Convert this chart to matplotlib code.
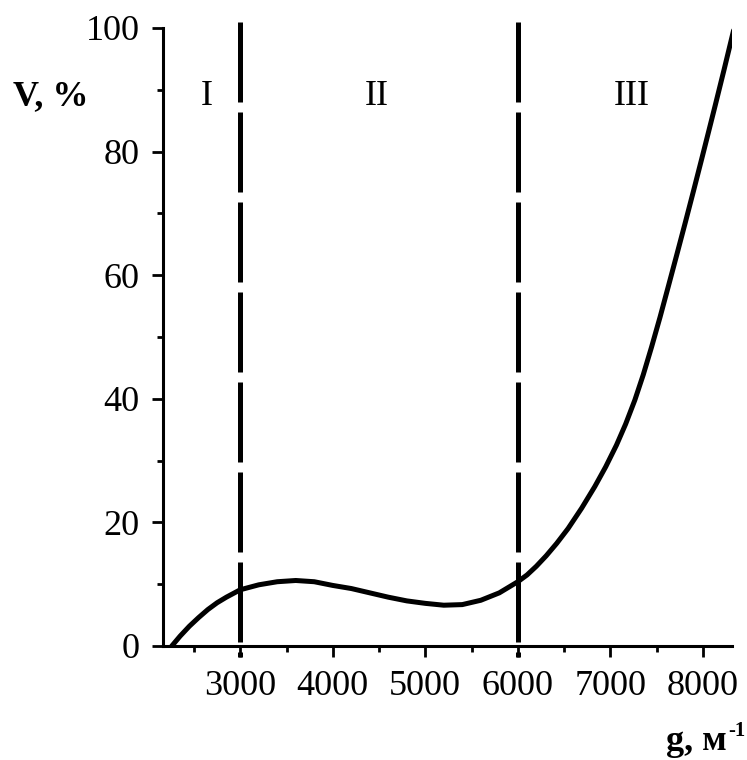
import matplotlib
matplotlib.use("Agg")
import matplotlib.pyplot as plt
from matplotlib.ticker import FixedLocator

# ---- data ----
g_values = [2260, 2350, 2450, 2550, 2650, 2750, 2850, 3000, 3200, 3400, 3600,
            3800, 4000, 4200, 4400, 4600, 4800, 5000, 5200, 5400, 5600, 5800,
            6000, 6100, 6200, 6307, 6420, 6543, 6690, 6832, 6950, 7066, 7165,
            7265, 7356, 7446, 7537, 7627, 7718, 7808, 7900, 7989, 8060, 8134,
            8230, 8332]
v_values = [0.0, 1.6, 3.2, 4.6, 5.9, 7.0, 7.9, 9.1, 9.9, 10.4, 10.6,
            10.4, 9.8, 9.3, 8.6, 7.9, 7.3, 6.9, 6.6, 6.7, 7.4, 8.6,
            10.4, 11.5, 12.9, 14.6, 16.6, 19.0, 22.3, 25.8, 29.0, 32.5, 35.9,
            39.8, 43.9, 48.4, 53.2, 58.2, 63.3, 68.4, 73.7, 78.9, 83.1, 87.5,
            93.3, 99.6]
boundaries = [3000, 6000]
region_labels = ["I", "II", "III"]
region_x = [2643, 4476, 7227]
x_major = [3000, 4000, 5000, 6000, 7000, 8000]
x_minor = [2500, 3500, 4500, 5500, 6500, 7500]
y_major = [0, 20, 40, 60, 80, 100]
y_minor = [10, 30, 50, 70, 90]

serif = ["Liberation Serif", "DejaVu Serif"]
plt.rcParams["font.family"] = serif

W, H = 747, 760
fig = plt.figure(figsize=(W / 100, H / 100), dpi=100)
ax = fig.add_axes([163 / W, 1 - 646 / H, (732 - 163) / W, (646 - 28) / H])

ax.plot(g_values, v_values, color="black", lw=3.6, solid_capstyle="round",
        solid_joinstyle="round", zorder=3)

for b in boundaries:
    ax.plot([b, b], [101, -1.8], color="black", lw=3.6, dashes=(16, 2.0),
            clip_on=False, zorder=2)

for lab, xx in zip(region_labels, region_x):
    ax.text(xx, 87.5, lab, ha="center", va="baseline", fontsize=26, color="black")

ax.set_xlim(2165, 8315)
ax.set_ylim(0, 100)

ax.xaxis.set_major_locator(FixedLocator(x_major))
ax.xaxis.set_minor_locator(FixedLocator(x_minor))
ax.yaxis.set_major_locator(FixedLocator(y_major))
ax.yaxis.set_minor_locator(FixedLocator(y_minor))
ax.set_xticklabels([str(v) for v in x_major])
ax.set_yticklabels([str(v) for v in y_major])

for s in ["top", "right"]:
    ax.spines[s].set_visible(False)
for s in ["left", "bottom"]:
    ax.spines[s].set_linewidth(2.2)

ax.tick_params(axis="both", which="major", direction="out", length=8, width=2.0,
               labelsize=26, colors="black")
ax.tick_params(axis="both", which="minor", direction="out", length=4, width=2.0)
ax.tick_params(axis="y", which="major", pad=9)
ax.tick_params(axis="x", which="major", pad=9)

fig.text(13 / W, 1 - 105 / H, "V, %", ha="left", va="baseline", fontsize=26,
         fontweight="bold")
fig.text(727 / W, 1 - 750 / H, "g, м", ha="right", va="baseline", fontsize=26,
         fontweight="bold")
fig.text(728 / W, 1 - 736 / H, "-1", ha="left", va="baseline", fontsize=15,
         fontweight="bold")

fig.savefig("out.png", dpi=100)
